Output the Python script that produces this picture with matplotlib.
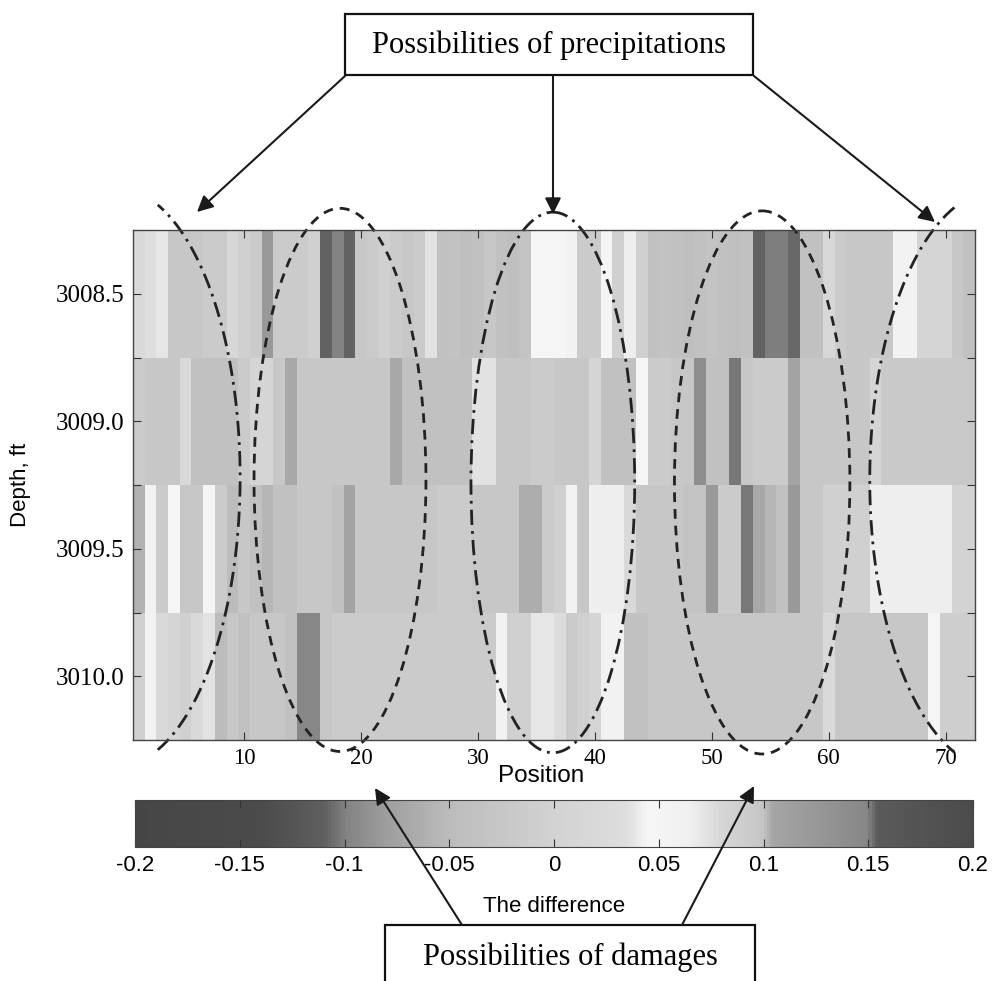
import numpy as np
import matplotlib
matplotlib.use("Agg")
import matplotlib.pyplot as plt
from matplotlib.colors import LinearSegmentedColormap
from matplotlib.patches import Ellipse, Rectangle, FancyArrowPatch

plt.rcParams['axes.unicode_minus'] = False

# Measured difference per position (columns) for each depth level
positions = np.arange(1, 73)
depths = [3008.5, 3009.0, 3009.5, 3010.0]

diff_3008_5 = [0.021, 0.035, 0.039, -0.025, -0.025, -0.025, -0.015, -0.015, 0.013, -0.004,
               -0.015, -0.084, -0.015, -0.015, -0.015, -0.004, -0.109, -0.100, -0.109, -0.025,
               -0.015, -0.004, -0.015, -0.025, -0.015, 0.037, -0.038, -0.033, -0.043, -0.038,
               -0.025, -0.038, -0.043, -0.033, 0.045, 0.045, 0.045, 0.043, -0.015, -0.015,
               0.045, -0.004, 0.041, -0.004, -0.038, -0.033, -0.038, -0.043, -0.038, -0.033,
               -0.038, -0.043, -0.038, -0.109, -0.101, -0.101, -0.107, -0.038, -0.038, 0.013,
               -0.015, -0.025, -0.025, -0.025, -0.025, 0.043, 0.043, 0.008, 0.008, 0.008,
               -0.025, -0.038]
diff_3009_0 = [-0.015, -0.025, -0.025, -0.025, 0.021, -0.038, -0.038, -0.038, -0.038, -0.015,
               0.008, 0.008, -0.025, -0.070, -0.025, -0.025, -0.025, -0.025, -0.025, -0.025,
               -0.025, -0.025, -0.070, -0.038, -0.038, -0.038, -0.038, -0.038, -0.038, 0.036,
               0.036, -0.025, -0.025, -0.025, -0.015, -0.015, -0.025, -0.025, -0.025, 0.008,
               -0.038, -0.038, -0.038, 0.045, -0.015, -0.015, -0.025, -0.025, -0.092, -0.038,
               -0.038, -0.103, -0.025, -0.015, -0.015, -0.015, -0.075, -0.025, -0.025, -0.025,
               -0.025, -0.025, -0.025, 0.008, -0.019, -0.019, -0.019, -0.019, -0.019, -0.019,
               -0.019, -0.019]
diff_3009_5 = [-0.060, 0.043, -0.015, 0.045, -0.025, -0.025, 0.045, -0.015, -0.050, -0.025,
               -0.038, -0.055, -0.038, -0.038, -0.025, -0.025, -0.025, -0.038, -0.075, -0.025,
               -0.025, -0.025, -0.025, -0.025, -0.025, -0.025, -0.015, -0.015, -0.015, -0.025,
               -0.025, -0.025, -0.025, -0.065, -0.065, -0.015, -0.004, 0.043, -0.025, 0.041,
               0.041, 0.041, 0.021, -0.025, -0.025, -0.025, -0.025, -0.033, -0.033, -0.084,
               -0.015, -0.015, -0.103, -0.070, -0.055, -0.038, -0.084, -0.025, -0.025, -0.004,
               -0.004, -0.004, -0.004, 0.041, 0.041, 0.041, 0.041, 0.041, 0.041, 0.041,
               0.003, 0.003]
diff_3010_0 = [-0.004, 0.043, 0.021, 0.008, -0.004, 0.021, 0.037, -0.050, -0.025, -0.038,
               -0.025, -0.025, -0.025, -0.038, -0.096, -0.096, -0.025, -0.015, -0.015, -0.015,
               -0.015, -0.015, -0.015, -0.015, -0.015, -0.015, -0.015, -0.015, -0.015, -0.015,
               -0.015, 0.043, -0.004, -0.004, 0.039, 0.039, 0.030, -0.015, -0.004, 0.008,
               0.043, 0.043, -0.038, -0.038, -0.025, -0.025, -0.025, -0.025, -0.025, -0.025,
               -0.025, -0.025, -0.025, -0.025, -0.025, -0.025, -0.025, -0.025, -0.025, 0.021,
               -0.025, -0.025, -0.025, -0.025, -0.025, -0.025, -0.025, -0.025, 0.044, -0.010,
               -0.010, -0.010]

cbar_ticks = [-0.2, -0.15, -0.1, -0.05, 0, 0.05, 0.1, 0.15, 0.2]
cbar_ticklabels = ['-0.2', '-0.15', '-0.1', '-0.05', '0', '0.05', '0.1', '0.15', '0.2']

diff = np.array([diff_3008_5, diff_3009_0, diff_3009_5, diff_3010_0])

# grey map: dark at both ends, white just above zero
anchors = [(-0.20, 70), (-0.14, 75), (-0.11, 95), (-0.10, 130), (-0.08, 158),
           (-0.06, 178), (-0.05, 188), (-0.025, 199), (0.0, 210), (0.035, 222),
           (0.045, 246), (0.065, 240), (0.08, 215), (0.10, 197), (0.105, 165),
           (0.15, 135), (0.155, 90), (0.20, 75)]
cmap = LinearSegmentedColormap.from_list(
    'diffgrey', [((v + 0.2) / 0.4, (g / 255,) * 3) for v, g in anchors])

W, H = 994, 981


def fig_xy(px, py):
    return px / W, 1 - py / H


fig = plt.figure(figsize=(W / 100, H / 100), dpi=100)
ax = fig.add_axes([133 / W, 1 - 740 / H, 842 / W, 510 / H])
cax = fig.add_axes([135 / W, 1 - 847 / H, 838 / W, 47 / H])

x_edges = np.append(positions - 0.5, positions[-1] + 0.5)
dstep = depths[1] - depths[0]
y_edges = np.append(np.array(depths) - dstep / 2, depths[-1] + dstep / 2)
mesh = ax.pcolormesh(x_edges, y_edges, diff, cmap=cmap, vmin=-0.2, vmax=0.2)
ax.set_xlim(x_edges[0], x_edges[-1])
ax.set_ylim(y_edges[-1], y_edges[0])

serif = 'Liberation Serif'
sans = 'Liberation Sans'
ax.set_xticks(range(10, 80, 10))
ax.set_xticklabels([str(v) for v in range(10, 80, 10)], family=serif, fontsize=16.5)
yt = np.arange(y_edges[0] + 0.25, y_edges[-1], 0.25)
ax.set_yticks(yt)
ax.set_yticklabels(['%.1f' % v if abs(v * 2 - round(v * 2)) < 1e-6 else '' for v in yt],
                   family=serif, fontsize=18)
ax.tick_params(direction='in', top=True, right=True, length=6, width=0.8,
               color='#333333', pad=6)
for s in ax.spines.values():
    s.set_color('#444444')
    s.set_linewidth(1.0)
ax.set_ylabel('Depth, ft', family=sans, fontsize=16, labelpad=18)
fig.text(*fig_xy(541, 776), 'Position', family=sans, fontsize=17.5,
         ha='center', va='center')

cb = fig.colorbar(mesh, cax=cax, orientation='horizontal', ticks=cbar_ticks)
cb.ax.set_xticklabels(cbar_ticklabels, family=sans, fontsize=16)
cb.ax.tick_params(direction='in', top=True, bottom=True, length=6, width=0.8,
                  color='#333333', pad=6)
cb.outline.set_edgecolor('#444444')
cb.set_label('The difference', family=sans, fontsize=16, labelpad=14)

# outlined zones drawn over the map
ink = '#222222'
line_kw = dict(fill=False, color=ink, lw=2.0, clip_on=False)
dashed = (0, (3.5, 2.5))
dashdot = (0, (5.5, 2.2, 1.0, 2.2))
ax.add_patch(Ellipse((18.2, 3009.23), 14.7, 2.13, ls=dashed, **line_kw))
ax.add_patch(Ellipse((54.3, 3009.24), 15.0, 2.13, ls=dashed, **line_kw))
ax.add_patch(Ellipse((36.4, 3009.24), 14.0, 2.12, ls=dashdot, **line_kw))

# partial elliptic arcs at both edges
t = np.radians(np.linspace(-70, 70, 200))
ax.plot(-1.04 + 10.7 * np.cos(t), 3009.22 - 1.137 * np.sin(t),
        color=ink, lw=2.0, ls=dashdot, clip_on=False)
t = np.radians(np.linspace(110, 250, 200))
ax.plot(74.5 + 11.0 * np.cos(t), 3009.23 - 1.137 * np.sin(t),
        color=ink, lw=2.0, ls=dashdot, clip_on=False)

# callout boxes and arrows
box_kw = dict(fill=False, ec='#111111', lw=1.6, transform=fig.transFigure)
x0, y0 = fig_xy(345, 75)
fig.add_artist(Rectangle((x0, y0), 408 / W, 61 / H, **box_kw))
fig.text(*fig_xy(549, 45), 'Possibilities of precipitations', family=serif,
         fontsize=22, ha='center', va='center')
x0, y0 = fig_xy(385, 995)
fig.add_artist(Rectangle((x0, y0), 370 / W, 70 / H, **box_kw))
fig.text(*fig_xy(570, 957), 'Possibilities of damages', family=serif,
         fontsize=22, ha='center', va='center')

arrows = [((345, 76), (197, 212)), ((553, 76), (553, 214)), ((754, 76), (935, 222)),
          ((462, 925), (375, 788)), ((682, 925), (754, 786))]
for a, b in arrows:
    fig.add_artist(FancyArrowPatch(fig_xy(*a), fig_xy(*b), transform=fig.transFigure,
                                   arrowstyle='-|>', mutation_scale=24, lw=1.5,
                                   color='#1a1a1a', shrinkA=0, shrinkB=0))

fig.savefig('out.png', dpi=100)
